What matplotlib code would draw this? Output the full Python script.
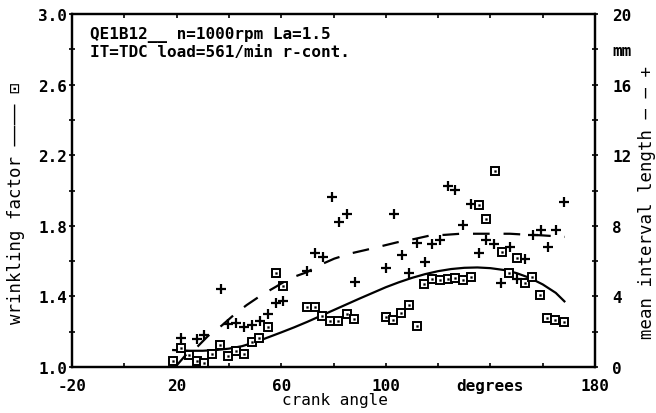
import numpy as np
import matplotlib.pyplot as plt

# wrinkling factor (squares)
wf_angle = [18.5, 21.7, 24.7, 27.7, 30.5, 33.7, 36.7, 39.7, 42.7, 45.8, 48.7, 51.6,
            54.8, 58.0, 60.8, 69.8, 72.8, 75.7, 78.8, 81.8, 85.0, 88.0, 100.0, 102.9,
            105.9, 109.0, 111.8, 114.7, 117.8, 120.7, 123.7, 126.6, 129.4, 132.5, 135.5,
            138.4, 141.6, 144.3, 147.1, 150.2, 153.1, 156.0, 159.0, 161.8, 164.8, 168.0]
wf_value = [1.032, 1.108, 1.068, 1.032, 1.023, 1.074, 1.123, 1.062, 1.089, 1.074, 1.142, 1.164,
            1.227, 1.531, 1.459, 1.342, 1.338, 1.287, 1.262, 1.259, 1.300, 1.270, 1.283, 1.266,
            1.308, 1.351, 1.231, 1.472, 1.497, 1.495, 1.499, 1.503, 1.491, 1.510, 1.918,
            1.837, 2.112, 1.652, 1.533, 1.619, 1.476, 1.512, 1.408, 1.279, 1.266, 1.257]

# fitted wrinkling factor curve (solid)
wf_fit_angle = [18.7, 25, 30, 35, 40, 45, 50, 55, 60, 65, 70, 75, 80, 85, 90, 95, 100,
                105, 110, 115, 120, 125, 130, 135, 140, 145, 150, 155, 160, 165, 168.3]
wf_fit_value = [1.096, 1.092, 1.092, 1.096, 1.104, 1.118, 1.140, 1.168, 1.196, 1.225, 1.256,
                1.289, 1.322, 1.355, 1.388, 1.420, 1.452, 1.480, 1.505, 1.526, 1.543, 1.555,
                1.562, 1.564, 1.560, 1.550, 1.532, 1.505, 1.468, 1.420, 1.372]

# mean interval length (crosses), mm
ml_angle = [21.7, 27.7, 30.5, 37.0, 39.8, 42.7, 45.9, 48.9, 51.8, 54.8, 57.9, 60.8, 69.8,
            72.9, 76.1, 79.3, 82.1, 85.3, 88.1, 100.1, 103.1, 106.2, 109.0, 112.0, 115.0,
            117.8, 120.7, 123.8, 126.6, 129.6, 132.5, 135.5, 138.4, 141.3, 144.2, 147.4,
            150.3, 153.3, 156.4, 159.2, 162.1, 165.2, 168.3]
ml_value = [1.63, 1.59, 1.83, 4.43, 2.44, 2.48, 2.29, 2.40, 2.59, 3.00, 3.63, 3.76, 5.46,
            6.46, 6.23, 9.63, 8.22, 8.67, 4.82, 5.61, 8.68, 6.36, 5.31, 7.01, 5.97,
            6.97, 7.20, 10.27, 10.04, 8.02, 9.24, 6.47, 7.20, 6.97, 4.74, 6.80,
            5.00, 6.10, 7.48, 7.78, 6.78, 7.78, 9.35]

# fitted interval length curve (dashed)
ml_fit_angle = [19.5, 24.5, 27.7, 32.1, 37.2, 41.9, 46.8, 52.5, 58.0, 63.4, 69.8, 74.8, 80.3,
                86.7, 92.3, 98.7, 104.5, 110.9, 116.6, 122.9, 128.6, 135.4, 140.9, 147.5,
                153.2, 159.6, 165.6, 168.5]
ml_fit_value = [0.0, 0.85, 1.11, 1.77, 2.34, 2.95, 3.51, 4.08, 4.55, 5.03, 5.37, 5.78, 6.14,
                6.44, 6.63, 6.86, 7.07, 7.25, 7.44, 7.49, 7.55, 7.55, 7.55, 7.55,
                7.50, 7.46, 7.40, 7.37]

x_ticks = [-20, 0, 20, 40, 60, 80, 100, 120, 140, 160, 180]
x_labels = ['-20', '', '20', '', '60', '', '100', '', 'degrees', '', '180']
left_ticks = [1.0, 1.2, 1.4, 1.6, 1.8, 2.0, 2.2, 2.4, 2.6, 2.8, 3.0]
left_labels = ['1.0', '', '1.4', '', '1.8', '', '2.2', '', '2.6', '', '3.0']
right_ticks = [0, 2, 4, 6, 8, 10, 12, 14, 16, 18, 20]
right_labels = ['0', '', '4', '', '8', '', '12', '', '16', 'mm', '20']

FONT = ['DejaVu Sans Mono', 'DejaVu Sans']
plt.rcParams['font.family'] = FONT
plt.rcParams['font.size'] = 11.5
plt.rcParams['font.weight'] = 'bold'

fig = plt.figure(figsize=(6.56, 4.14), dpi=100)
ax = fig.add_axes([72/656, 1-368/414, (595-72)/656, (368-15)/414])
ax2 = ax.twinx()

ax.set_xlim(-20, 180)
ax.set_ylim(1.0, 3.0)
ax2.set_ylim(0, 20)

# curves
ax.plot(wf_fit_angle, wf_fit_value, color='black', lw=1.6, zorder=3)
lw_d = 1.6
ax2.plot(ml_fit_angle, ml_fit_value, color='black', lw=lw_d,
         dashes=(12/lw_d, 10/lw_d), zorder=3)

# squares with a dot in the middle
ax.plot(wf_angle, wf_value, ls='none', marker='s', ms=6.2, mfc='white', mec='black',
        mew=1.4, zorder=4)
ax.plot(wf_angle, wf_value, ls='none', marker='s', ms=1.3, mfc='black', mec='black',
        mew=0.3, zorder=5)

# crosses
ax2.plot(ml_angle, ml_value, ls='none', marker='+', ms=7.5, mew=1.6, color='black', zorder=4)

for a in (ax, ax2):
    for s in a.spines.values():
        s.set_linewidth(1.6)

ax.set_xticks(x_ticks)
ax.set_xticklabels(x_labels)
ax.set_yticks(left_ticks)
ax.set_yticklabels(left_labels)
ax2.set_yticks(right_ticks)
ax2.set_yticklabels(right_labels)

ax.tick_params(axis='x', direction='in', length=3, width=1.2, pad=8, top=True)
ax.tick_params(axis='y', direction='inout', length=5, width=1.2, pad=1)
ax2.tick_params(axis='y', direction='inout', length=5, width=1.2, pad=10)

ax.set_xlabel('crank angle')
ax.xaxis.set_label_coords(0.503, -0.072)
ax.set_ylabel('wrinkling factor \u2014\u2014\u2014\u2014 \u22a1', fontsize=12.5)
ax.yaxis.set_label_coords(-0.09, 0.467)
ax2.set_ylabel('mean interval length \u2014 \u2014 +', fontsize=12.5)
ax2.yaxis.set_label_coords(1.082, 0.47)

ax.text(0.035, 0.965, 'QE1B12__ n=1000rpm La=1.5\nIT=TDC load=561/min r-cont.',
        transform=ax.transAxes, ha='left', va='top', linespacing=1.1)

fig.savefig('out.png', dpi=100)
